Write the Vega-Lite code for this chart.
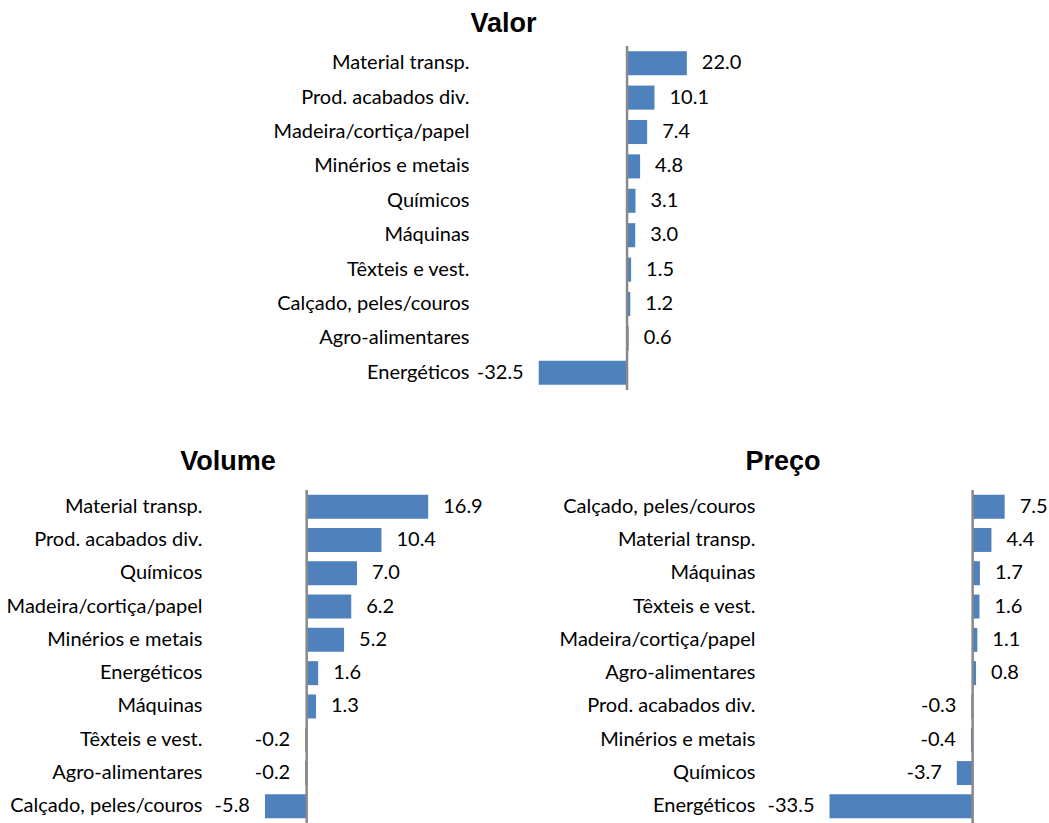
{
  "$schema": "https://vega.github.io/schema/vega-lite/v6.json",
  "background": "white",
  "padding": {"left": 6, "top": 9, "right": 0, "bottom": 0},
  "autosize": {"type": "pad"},
  "config": {
    "locale": {"number": {"decimal": ".", "thousands": ",", "grouping": [3], "currency": ["", ""], "minus": "-"}},
    "view": {"stroke": null},
    "title": {"font": "Liberation Sans", "fontSize": 27, "fontWeight": "bold", "color": "#000", "anchor": "middle", "baseline": "alphabetic"},
    "axisY": {"domain": false, "ticks": false, "labelPadding": 4, "labelFontSize": 20, "labelFont": "Lato", "labelColor": "#000", "labelLimit": 400, "title": null},
    "text": {"font": "Lato", "fontSize": 20, "color": "#000", "baseline": "middle"}
  },
  "data": {"values": [
    {"painel": "Valor", "categoria": "Material transp.", "valor": 22.0},
    {"painel": "Valor", "categoria": "Prod. acabados div.", "valor": 10.1},
    {"painel": "Valor", "categoria": "Madeira/cortiça/papel", "valor": 7.4},
    {"painel": "Valor", "categoria": "Minérios e metais", "valor": 4.8},
    {"painel": "Valor", "categoria": "Químicos", "valor": 3.1},
    {"painel": "Valor", "categoria": "Máquinas", "valor": 3.0},
    {"painel": "Valor", "categoria": "Têxteis e vest.", "valor": 1.5},
    {"painel": "Valor", "categoria": "Calçado, peles/couros", "valor": 1.2},
    {"painel": "Valor", "categoria": "Agro-alimentares", "valor": 0.6},
    {"painel": "Valor", "categoria": "Energéticos", "valor": -32.5},
    {"painel": "Volume", "categoria": "Material transp.", "valor": 16.9},
    {"painel": "Volume", "categoria": "Prod. acabados div.", "valor": 10.4},
    {"painel": "Volume", "categoria": "Químicos", "valor": 7.0},
    {"painel": "Volume", "categoria": "Madeira/cortiça/papel", "valor": 6.2},
    {"painel": "Volume", "categoria": "Minérios e metais", "valor": 5.2},
    {"painel": "Volume", "categoria": "Energéticos", "valor": 1.6},
    {"painel": "Volume", "categoria": "Máquinas", "valor": 1.3},
    {"painel": "Volume", "categoria": "Têxteis e vest.", "valor": -0.2},
    {"painel": "Volume", "categoria": "Agro-alimentares", "valor": -0.2},
    {"painel": "Volume", "categoria": "Calçado, peles/couros", "valor": -5.8},
    {"painel": "Preço", "categoria": "Calçado, peles/couros", "valor": 7.5},
    {"painel": "Preço", "categoria": "Material transp.", "valor": 4.4},
    {"painel": "Preço", "categoria": "Máquinas", "valor": 1.7},
    {"painel": "Preço", "categoria": "Têxteis e vest.", "valor": 1.6},
    {"painel": "Preço", "categoria": "Madeira/cortiça/papel", "valor": 1.1},
    {"painel": "Preço", "categoria": "Agro-alimentares", "valor": 0.8},
    {"painel": "Preço", "categoria": "Prod. acabados div.", "valor": -0.3},
    {"painel": "Preço", "categoria": "Minérios e metais", "valor": -0.4},
    {"painel": "Preço", "categoria": "Químicos", "valor": -3.7},
    {"painel": "Preço", "categoria": "Energéticos", "valor": -33.5}
  ]},
  "columns": 1,
  "align": "none",
  "spacing": 56,
  "concat": [
    {
      "title": {"text": "Valor", "offset": 7},
      "width": 595,
      "height": 344,
      "transform": [{"filter": "datum.painel === 'Valor'"}],
      "layer": [
        {"mark": {"type": "bar", "color": "#4f81bd"},
         "encoding": {
           "y": {"field": "categoria", "type": "nominal", "sort": null, "scale": {"paddingInner": 0.3, "paddingOuter": 0.15}, "axis": {"offset": -267}},
           "x": {"field": "valor", "type": "quantitative", "axis": null, "scale": {"domain": [-154.9, 64], "nice": false, "zero": false}}
         }},
        {"transform": [{"filter": "datum.valor >= 0"}],
         "mark": {"type": "text", "align": "left", "dx": 15},
         "encoding": {
           "y": {"field": "categoria", "type": "nominal", "sort": null},
           "x": {"field": "valor", "type": "quantitative"},
           "text": {"field": "valor", "type": "quantitative", "format": ".1f"}
         }},
        {"transform": [{"filter": "datum.valor < 0"}],
         "mark": {"type": "text", "align": "right", "dx": -15},
         "encoding": {
           "y": {"field": "categoria", "type": "nominal", "sort": null},
           "x": {"field": "valor", "type": "quantitative"},
           "text": {"field": "valor", "type": "quantitative", "format": ".1f"}
         }},
        {"data": {"values": [{}]},
         "mark": {"type": "rule", "color": "#898989", "strokeWidth": 2.5},
         "encoding": {"x": {"datum": 0, "type": "quantitative"}}}
      ]
    },
    {
      "hconcat": [
        {
          "title": {"text": "Volume", "offset": 12.5, "dx": -129},
          "width": 302,
          "height": 333,
          "transform": [{"filter": "datum.painel === 'Volume'"}],
          "layer": [
            {"mark": {"type": "bar", "color": "#4f81bd"},
             "encoding": {
               "y": {"field": "categoria", "type": "nominal", "sort": null, "scale": {"paddingInner": 0.28, "paddingOuter": 0.14}},
               "x": {"field": "valor", "type": "quantitative", "axis": null, "scale": {"domain": [-14, 28], "nice": false, "zero": false}}
             }},
            {"transform": [{"filter": "datum.valor >= 0"}],
             "mark": {"type": "text", "align": "left", "dx": 15},
             "encoding": {
               "y": {"field": "categoria", "type": "nominal", "sort": null},
               "x": {"field": "valor", "type": "quantitative"},
               "text": {"field": "valor", "type": "quantitative", "format": ".1f"}
             }},
            {"transform": [{"filter": "datum.valor < 0"}],
             "mark": {"type": "text", "align": "right", "dx": -15},
             "encoding": {
               "y": {"field": "categoria", "type": "nominal", "sort": null},
               "x": {"field": "valor", "type": "quantitative"},
               "text": {"field": "valor", "type": "quantitative", "format": ".1f"}
             }},
            {"data": {"values": [{}]},
             "mark": {"type": "rule", "color": "#898989", "strokeWidth": 2.5},
             "encoding": {"x": {"datum": 0, "type": "quantitative"}}}
          ]
        },
        {
          "title": {"text": "Preço", "offset": 12.5, "dx": -117},
          "width": 282,
          "height": 333,
          "transform": [{"filter": "datum.painel === 'Preço'"}],
          "layer": [
            {"mark": {"type": "bar", "color": "#4f81bd"},
             "encoding": {
               "y": {"field": "categoria", "type": "nominal", "sort": null, "scale": {"paddingInner": 0.28, "paddingOuter": 0.14}},
               "x": {"field": "valor", "type": "quantitative", "axis": null, "scale": {"domain": [-50, 16], "nice": false, "zero": false}}
             }},
            {"transform": [{"filter": "datum.valor >= 0"}],
             "mark": {"type": "text", "align": "left", "dx": 15},
             "encoding": {
               "y": {"field": "categoria", "type": "nominal", "sort": null},
               "x": {"field": "valor", "type": "quantitative"},
               "text": {"field": "valor", "type": "quantitative", "format": ".1f"}
             }},
            {"transform": [{"filter": "datum.valor < 0"}],
             "mark": {"type": "text", "align": "right", "dx": -15},
             "encoding": {
               "y": {"field": "categoria", "type": "nominal", "sort": null},
               "x": {"field": "valor", "type": "quantitative"},
               "text": {"field": "valor", "type": "quantitative", "format": ".1f"}
             }},
            {"data": {"values": [{}]},
             "mark": {"type": "rule", "color": "#898989", "strokeWidth": 2.5},
             "encoding": {"x": {"datum": 0, "type": "quantitative"}}}
          ]
        }
      ],
      "spacing": 51
    }
  ]
}
